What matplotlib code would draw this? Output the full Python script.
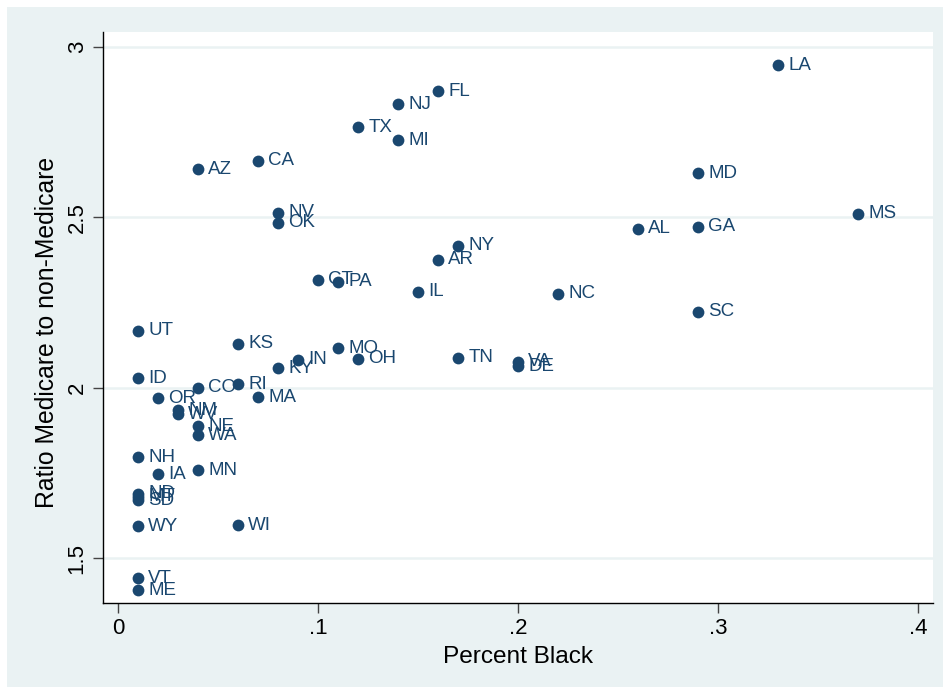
import matplotlib.pyplot as plt
from matplotlib.patches import Rectangle

# state level: share of population black vs. Medicare / non-Medicare ratio
states = ["LA", "FL", "NJ", "TX", "MI", "CA", "AZ", "MD", "NV", "MS",
          "OK", "GA", "AL", "NY", "AR", "CT", "PA", "IL", "NC", "SC",
          "UT", "KS", "MO", "TN", "OH", "IN", "VA", "DE", "KY", "ID",
          "RI", "CO", "MA", "OR", "NM", "WV", "NE", "WA", "NH", "MN",
          "IA", "ND", "MT", "SD", "WY", "WI", "VT", "ME"]
pct_black = [0.33, 0.16, 0.14, 0.12, 0.14, 0.07, 0.04, 0.29, 0.08, 0.37,
             0.08, 0.29, 0.26, 0.17, 0.16, 0.10, 0.11, 0.15, 0.22, 0.29,
             0.01, 0.06, 0.11, 0.17, 0.12, 0.09, 0.20, 0.20, 0.08, 0.01,
             0.06, 0.04, 0.07, 0.02, 0.03, 0.03, 0.04, 0.04, 0.01, 0.04,
             0.02, 0.01, 0.01, 0.01, 0.01, 0.06, 0.01, 0.01]
ratio = [2.946, 2.869, 2.831, 2.763, 2.725, 2.666, 2.640, 2.628, 2.513, 2.510,
         2.484, 2.472, 2.466, 2.416, 2.375, 2.316, 2.310, 2.281, 2.275, 2.222,
         2.166, 2.128, 2.116, 2.087, 2.084, 2.081, 2.075, 2.063, 2.057, 2.028,
         2.010, 1.999, 1.972, 1.969, 1.934, 1.922, 1.887, 1.860, 1.796, 1.757,
         1.746, 1.688, 1.680, 1.670, 1.593, 1.596, 1.440, 1.405]

xticks = [0, 0.1, 0.2, 0.3, 0.4]
xticklabels = ["0", ".1", ".2", ".3", ".4"]
yticks = [1.5, 2, 2.5, 3]
yticklabels = ["1.5", "2", "2.5", "3"]

navy = "#1A476F"
bg = "#EAF2F3"

plt.rcParams["font.family"] = "Liberation Sans"

fig = plt.figure(figsize=(9.5, 6.94), dpi=100, facecolor="white")
fig.patches.append(Rectangle((7 / 950, 7 / 694), 1 - 14 / 950, 1 - 14 / 694,
                             transform=fig.transFigure, facecolor=bg,
                             edgecolor="none", zorder=-10))
ax = fig.add_axes([103 / 950, 91 / 694, 830 / 950, 571 / 694])
ax.set_facecolor("white")

ax.scatter(pct_black, ratio, s=72, color=navy, zorder=3, linewidths=0)
for st, x, y in zip(states, pct_black, ratio):
    ax.annotate(st, (x, y), xytext=(7.5, 0), textcoords="offset points",
                va="center", ha="left", fontsize=13.5, color=navy, zorder=4)

ax.set_xlim(-0.0075, 0.4075)
ax.set_ylim(1.368, 3.043)
ax.set_xticks(xticks)
ax.set_xticklabels(xticklabels)
ax.set_yticks(yticks)
ax.set_yticklabels(yticklabels, rotation=90, va="center")

ax.grid(axis="y", color=bg, linewidth=1.8, zorder=1)
ax.grid(axis="x", visible=False)
ax.tick_params(axis="both", length=7, width=1, color="#444444",
               labelsize=16, pad=4)
for side in ["top", "right"]:
    ax.spines[side].set_visible(False)
for side in ["left", "bottom"]:
    ax.spines[side].set_color("black")
    ax.spines[side].set_linewidth(1)

ax.set_xlabel("Percent Black", fontsize=17.6, labelpad=5)
ax.set_ylabel("Ratio Medicare to non-Medicare", fontsize=17.8)
ax.yaxis.set_label_coords(-44 / 830, 0.473)

fig.savefig("out.png", dpi=100, facecolor=fig.get_facecolor())
